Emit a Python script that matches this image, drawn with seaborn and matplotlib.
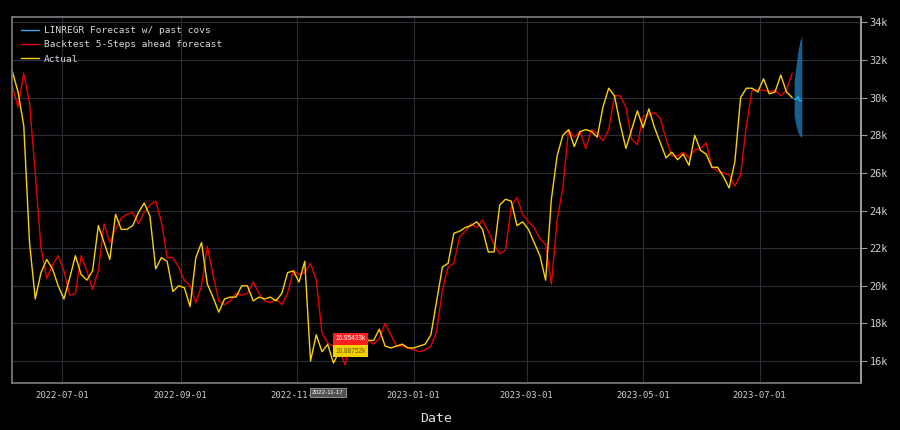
import pandas as pd
import matplotlib
matplotlib.use("Agg")
import matplotlib.pyplot as plt
import matplotlib.dates as mdates
from matplotlib.ticker import FuncFormatter, MultipleLocator
import seaborn as sns

# price in thousands, one value every third day from start_date
start_date = "2022-06-05"
actual = [
    31.4, 30.3, 28.5, 22.3, 19.3, 20.7, 21.4, 20.9, 20.0, 19.3,
    20.4, 21.6, 20.6, 20.3, 20.8, 23.2, 22.3, 21.4, 23.8, 23.0,
    23.0, 23.2, 23.9, 24.4, 23.7, 20.9, 21.5, 21.3, 19.7, 20.0,
    19.9, 18.9, 21.5, 22.3, 20.1, 19.4, 18.6, 19.3, 19.4, 19.4,
    20.0, 20.0, 19.2, 19.4, 19.3, 19.4, 19.2, 19.6, 20.7, 20.8,
    20.2, 21.3, 16.0, 17.4, 16.5, 16.88752, 15.9, 16.5, 16.5, 16.5,
    17.0, 17.0, 17.1, 17.1, 17.7, 16.8, 16.7, 16.8, 16.9, 16.7,
    16.7, 16.8, 16.9, 17.4, 19.2, 21.0, 21.2, 22.8, 22.9, 23.1,
    23.2, 23.4, 23.0, 21.8, 21.8, 24.3, 24.6, 24.5, 23.2, 23.4,
    23.0, 22.3, 21.6, 20.3, 24.6, 26.9, 28.0, 28.3, 27.4, 28.2,
    28.3, 28.2, 27.9, 29.5, 30.5, 30.1, 28.6, 27.3, 28.3, 29.3,
    28.4, 29.4, 28.4, 27.6, 26.8, 27.1, 26.7, 27.0, 26.4, 28.0,
    27.2, 27.0, 26.3, 26.3, 25.8, 25.2, 26.6, 30.0, 30.5, 30.5,
    30.3, 31.0, 30.2, 30.3, 31.2, 30.3, 30.0,
]
backtest = [
    30.6, 29.5, 31.3, 29.7, 26.0, 22.0, 20.4, 21.1, 21.6, 20.8,
    19.5, 19.6, 21.6, 20.8, 19.8, 20.8, 23.3, 22.3, 23.0, 23.6,
    23.8, 23.9, 23.3, 23.9, 24.3, 24.5, 23.4, 21.5, 21.5, 21.0,
    20.3, 20.0, 19.1, 20.0, 22.1, 20.6, 19.2, 19.0, 19.2, 19.6,
    19.5, 19.6, 20.2, 19.6, 19.2, 19.1, 19.3, 19.0, 19.6, 20.8,
    20.6, 20.7, 21.2, 20.3, 17.5, 16.95433, 16.8, 16.6, 15.8, 17.0,
    17.1, 16.9, 17.1, 16.9, 17.2, 18.0, 17.4, 16.8, 16.8, 16.7,
    16.6, 16.5, 16.6, 16.8, 17.6, 19.8, 21.0, 21.2, 22.6, 22.9,
    23.3, 23.1, 23.5, 22.9, 22.2, 21.7, 21.9, 24.2, 24.7, 23.8,
    23.4, 23.1, 22.5, 22.2, 20.1, 23.5, 25.2, 28.3, 27.9, 28.2,
    27.3, 28.3, 28.1, 27.7, 28.3, 30.1, 30.1, 29.5, 27.8, 27.5,
    29.0, 29.1, 29.2, 28.9, 27.8, 26.9, 26.9, 27.1, 26.8, 27.2,
    27.3, 27.6, 26.3, 26.1, 26.0, 25.9, 25.3, 25.9, 28.5, 30.4,
    30.4, 30.4, 30.3, 30.4, 30.1, 30.4, 31.3,
]

# 5 step forecast with its spread
forecast_start = "2023-07-19"
forecast = [29.95, 29.88, 30.05, 29.82, 29.85]
forecast_low = [29.0, 28.5, 28.15, 27.98, 27.88]
forecast_high = [30.9, 31.7, 32.5, 33.0, 33.3]

hover_date = "2022-11-17"
hover_actual = 16.88752
hover_backtest = 16.95433

dates = pd.date_range(start_date, periods=len(actual), freq="3D")
fc_dates = pd.date_range(forecast_start, periods=len(forecast), freq="D")

sns.set_theme(style="dark", rc={
    "figure.facecolor": "black",
    "axes.facecolor": "black",
    "axes.edgecolor": "#8a8a8a",
    "grid.color": "#2a2e38",
})
plt.rcParams["font.family"] = ["DejaVu Sans Mono"]

fig, ax = plt.subplots(figsize=(9, 4.3), dpi=100)
fig.subplots_adjust(left=0.0128, right=0.9567, bottom=0.109, top=0.9616)

ax.fill_between(fc_dates, forecast_low, forecast_high, color="#1f77b4", alpha=0.8, lw=0)
sns.lineplot(x=fc_dates, y=forecast, ax=ax, color="#2aa8e8", lw=1.0,
             label="LINREGR Forecast w/ past covs")
sns.lineplot(x=dates, y=backtest, ax=ax, color="#e60000", lw=1.0,
             label="Backtest 5-Steps ahead forecast")
sns.lineplot(x=dates, y=actual, ax=ax, color="#fad200", lw=1.0, label="Actual")

ax.set_xlim(pd.Timestamp("2022-06-04 14:00"), pd.Timestamp("2023-08-23"))
ax.set_ylim(14.83, 34.31)

ax.yaxis.tick_right()
ax.yaxis.set_major_locator(MultipleLocator(2))
ax.yaxis.set_major_formatter(FuncFormatter(lambda v, _: f"{v:.0f}k"))
ax.tick_params(axis="y", right=True, left=False, length=4, width=0.8,
               color="#9a9a9a", labelcolor="#d0d0d0", labelsize=7.4, pad=2)
ax.xaxis.set_major_locator(mdates.MonthLocator(bymonth=[1, 3, 5, 7, 9, 11]))
ax.xaxis.set_major_formatter(mdates.DateFormatter("%Y-%m-%d"))
ax.tick_params(axis="x", length=0, labelsize=6.4, labelcolor="#d0d0d0", pad=6)
ax.set_xlabel("Date", fontsize=9.5, color="#e0e0e0", labelpad=8)
ax.set_ylabel("")
ax.grid(True, color="#2a2e38", lw=0.8)
for side in ["left", "top", "bottom"]:
    ax.spines[side].set_color("#7a7a7a")
ax.spines["right"].set_color("#b0b0b0")

leg = ax.legend(loc="upper left", frameon=False, fontsize=6.8, handlelength=1.9,
                handletextpad=0.55, labelspacing=0.56, borderaxespad=0.6)
for t in leg.get_texts():
    t.set_color("#d9d9d9")

# hover tooltips
hx = mdates.date2num(pd.Timestamp(hover_date))
ax.annotate(f"{hover_backtest:.5f}k", xy=(hx, hover_backtest), xytext=(5.5, 3.1),
            textcoords="offset points", ha="left", va="center", fontsize=4.7,
            family="Liberation Sans", color="white", zorder=10,
            bbox=dict(boxstyle="square,pad=0.35", fc="#ff1f1f", ec="none"))
ax.annotate(f"{hover_actual:.5f}k", xy=(hx, hover_actual), xytext=(5.5, -4.8),
            textcoords="offset points", ha="left", va="center", fontsize=4.7,
            family="Liberation Sans", color="#6b5a00", zorder=10,
            bbox=dict(boxstyle="square,pad=0.35", fc="#f2d000", ec="none"))
ax.annotate(hover_date, xy=(hx, 0), xycoords=ax.get_xaxis_transform(),
            xytext=(0, -6.8), textcoords="offset points", ha="center", va="center",
            fontsize=4.5, family="Liberation Sans", color="white", zorder=10,
            annotation_clip=False,
            bbox=dict(boxstyle="square,pad=0.35", fc="#505050", ec="#a0a0a0", lw=0.6))

plt.savefig("out.png", dpi=100, facecolor="black")
